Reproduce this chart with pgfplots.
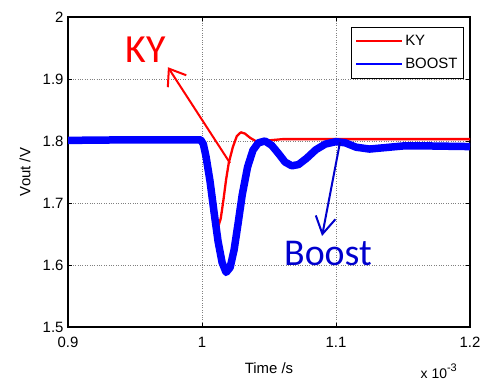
\documentclass[border=0pt]{standalone}
\usepackage{pgfplots}
\pgfplotsset{compat=1.18}
\usetikzlibrary{arrows.meta}
\usepackage{fontspec}
\setmainfont{Liberation Sans}
\newfontfamily\calib{Carlito}
\definecolor{kyred}{RGB}{255,0,0}
\definecolor{bblue}{RGB}{0,0,255}
\definecolor{anblue}{RGB}{0,0,205}
\begin{document}
\begin{tikzpicture}
\useasboundingbox (-68bp,-53bp) rectangle (416bp,327bp);
\begin{axis}[
  name=ax,
  scale only axis,
  width=402bp, height=310bp,
  xmin=0.9, xmax=1.2, ymin=1.5, ymax=2,
  xtick={0.9,1,1.1,1.2},
  ytick={1.5,1.6,1.7,1.8,1.9,2},
  xticklabels={0.9,1,1.1,1.2},
  yticklabels={1.5,1.6,1.7,1.8,1.9,2},
  tick align=inside,
  major tick length=4bp,
  every tick/.style={black, line width=0.8bp},
  axis line style={line width=1.3bp},
  grid=major,
  major grid style={dotted, gray, line width=0.8bp},
  ticklabel style={font=\fontsize{15}{18}\selectfont},
  xticklabel style={anchor=base, yshift=-20bp},
  yticklabel style={anchor=east, xshift=-1bp},
  /pgf/number format/assume math mode=true,
  xlabel={Time /s},
  ylabel={Vout /V},
  label style={font=\fontsize{15}{18}\selectfont},
  xlabel style={at={(axis description cs:0.5,0)}, anchor=base, yshift=-46bp},
  ylabel style={at={(axis description cs:0,0.5)}, anchor=south, yshift=34bp},
  legend style={
    draw=black, line width=0.8bp,
    font=\fontsize{15}{18}\selectfont,
    at={(rel axis cs:0.985,0.968)}, anchor=north east,
    inner xsep=4bp, inner ysep=6bp,
    row sep=7bp,
    cells={anchor=west},
  },
  legend image code/.code={\draw[#1,line width=2bp] (0bp,0bp) -- (46bp,0bp);},
]
\addplot[kyred, line width=2.3bp, line join=round] coordinates {
(0.900,1.803) (0.950,1.803) (1.000,1.803) (1.002,1.790) (1.004,1.765) (1.006,1.735)
(1.008,1.700) (1.010,1.670) (1.012,1.661) (1.014,1.675) (1.016,1.705) (1.018,1.738)
(1.020,1.765) (1.023,1.790) (1.026,1.808) (1.029,1.814) (1.032,1.812) (1.036,1.805)
(1.040,1.800) (1.045,1.798) (1.050,1.801) (1.060,1.803) (1.100,1.803) (1.150,1.803) (1.200,1.803)
};
\addlegendentry{KY}
\addplot[bblue, line width=7.5bp, line join=round] coordinates {
(0.900,1.801) (0.950,1.802) (0.999,1.802) (1.001,1.795) (1.003,1.775) (1.006,1.735)
(1.009,1.685) (1.012,1.638) (1.015,1.604) (1.018,1.588) (1.021,1.596) (1.024,1.625)
(1.027,1.668) (1.030,1.713) (1.034,1.758) (1.038,1.785) (1.042,1.797) (1.047,1.800)
(1.052,1.793) (1.057,1.780) (1.062,1.766) (1.067,1.760) (1.072,1.762) (1.078,1.772)
(1.085,1.786) (1.092,1.795) (1.100,1.799) (1.107,1.797) (1.115,1.790) (1.125,1.787)
(1.135,1.789) (1.150,1.792) (1.170,1.792) (1.200,1.791)
};
\addlegendentry{BOOST}
\draw[kyred, line width=2bp, -{Straight Barb[length=15bp,width=22bp]}]
  (axis cs:1.0209,1.7645) -- (axis cs:0.9746,1.919);
\node[kyred, anchor=base, inner sep=0pt, font=\calib\fontsize{40}{44}\selectfont]
  at (axis cs:0.9582,1.9274) {KY};
\draw[anblue, line width=2bp, -{Straight Barb[length=17bp,width=20bp]}]
  (axis cs:1.103,1.798) -- (axis cs:1.0896,1.6468);
\node[anblue, anchor=base, inner sep=0pt, font=\calib\fontsize{38}{42}\selectfont]
  at (axis cs:1.094,1.600) {Boost};
\end{axis}
\node[anchor=base east, inner sep=0pt, font=\fontsize{14}{16}\selectfont]
  at ([xshift=-13bp, yshift=-51bp]ax.south east) {x 10\raisebox{7bp}{\fontsize{11}{12}\selectfont -3}};
\end{tikzpicture}
\end{document}
